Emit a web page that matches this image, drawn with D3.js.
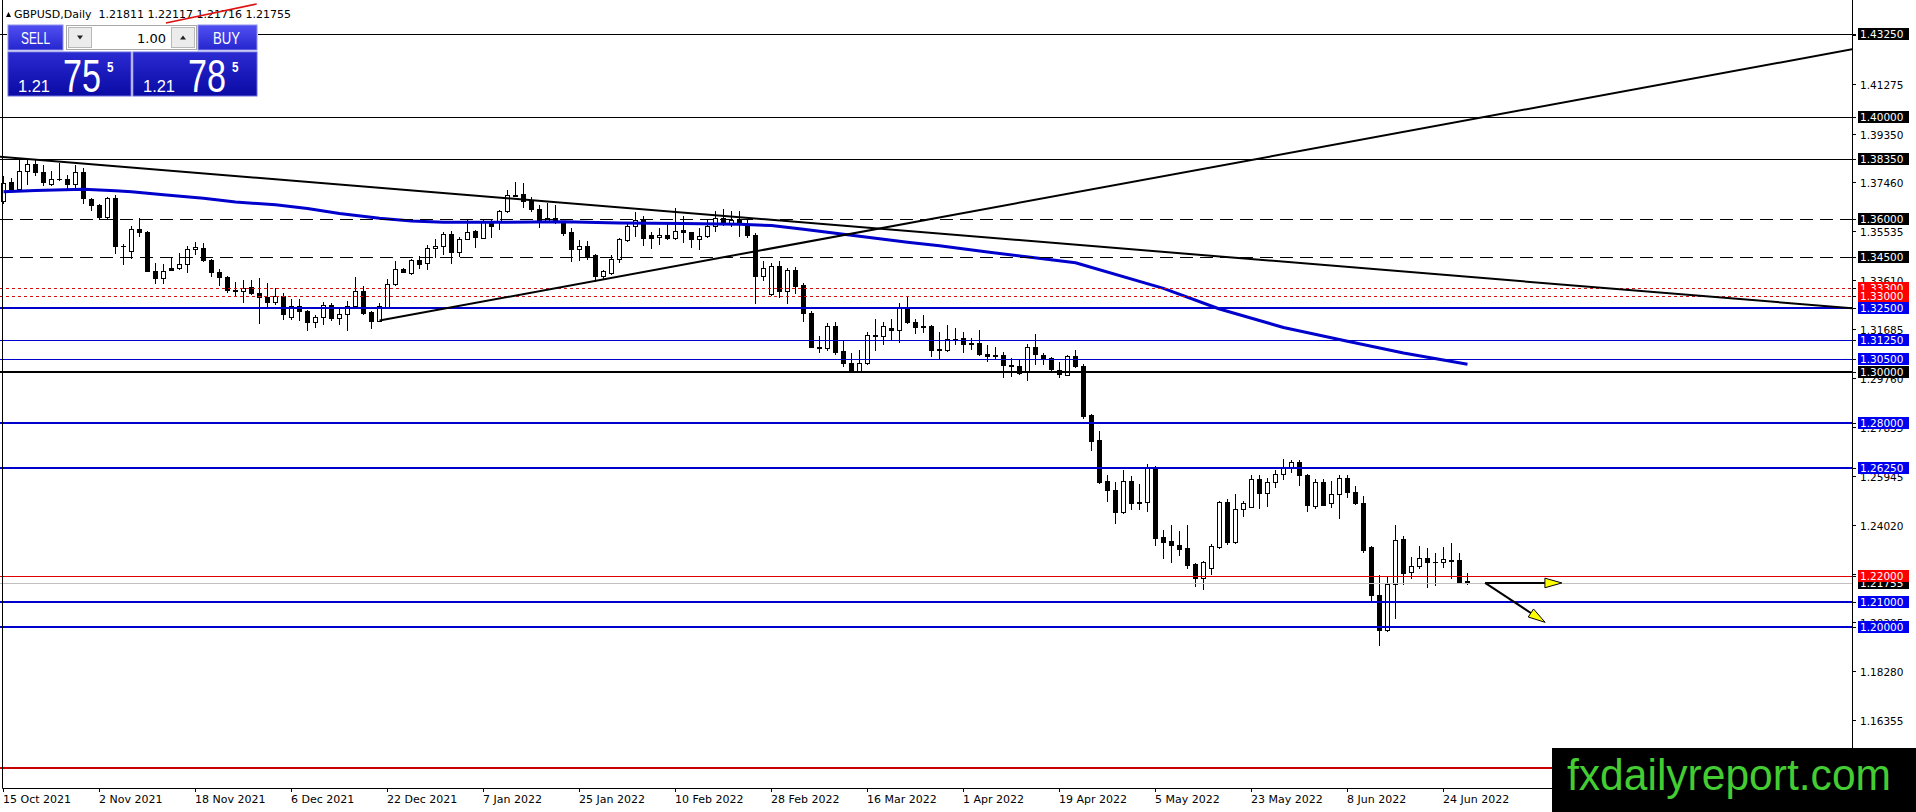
<!DOCTYPE html>
<html>
<head>
<meta charset="utf-8">
<script src="https://cdn.jsdelivr.net/npm/d3@7"></script>
<style>
  body { margin: 0; background: #fff; overflow: hidden; }
  text { font-family: "DejaVu Sans", sans-serif; }
</style>
</head>
<body>
<div id="chart"></div>
<script>
// ---- data ----
var symbol = "GBPUSD,Daily";

var opens = [
  1.3669,1.3747,1.3718,1.3788,1.3815,1.3785,1.3737,1.3756,1.3757,1.3737,
  1.3785,1.3678,1.3656,1.3608,1.3682,1.3494,1.3473,1.3559,1.3551,1.3398,
  1.3368,1.3407,1.3407,1.3423,1.3481,1.3487,1.3438,1.3393,1.3373,1.3323,
  1.3318,1.3334,1.3310,1.3296,1.3274,1.3298,1.3215,1.3258,1.3241,1.3196,
  1.3215,1.3264,1.3211,1.3228,1.3258,1.3319,1.3237,1.3202,1.3257,1.3345,
  1.3404,1.3388,1.3438,1.3426,1.3485,1.3493,1.3542,1.3472,1.3522,1.3552,
  1.3526,1.3585,1.3591,1.3630,1.3696,1.3699,1.3671,1.3639,1.3591,1.3604,
  1.3585,1.3548,1.3481,1.3494,1.3458,1.3375,1.3390,1.3442,1.3517,1.3572,
  1.3597,1.3539,1.3530,1.3539,1.3526,1.3556,1.3548,1.3522,1.3533,1.3574,
  1.3604,1.3582,1.3600,1.3578,1.3539,1.3375,1.3306,1.3416,1.3316,1.3401,
  1.3342,1.3232,1.3099,1.3095,1.3179,1.3082,1.3034,1.3004,1.3034,1.3144,
  1.3140,1.3172,1.3166,1.3254,1.3198,1.3182,1.3180,1.3086,1.3088,1.3131,
  1.3134,1.3114,1.3114,1.3073,1.3067,1.3067,1.3028,1.3023,1.3000,1.3100,
  1.3067,1.3056,1.3010,1.2990,1.3065,1.3026,1.2834,1.2735,1.2572,1.2540,
  1.2452,1.2575,1.2493,1.2491,1.2628,1.2353,1.2337,1.2324,1.2311,1.2248,
  1.2195,1.2234,1.2315,1.2491,1.2334,1.2464,1.2470,1.2581,1.2526,1.2570,
  1.2600,1.2630,1.2648,1.2596,1.2477,1.2570,1.2487,1.2522,1.2585,1.2531,
  1.2487,1.2316,1.2128,1.1991,1.2171,1.2346,1.2216,1.2240,1.2272,1.2255,
  1.2256,1.2264,1.2262,1.21811];

var highs = [
  1.3769,1.3760,1.3831,1.3831,1.3831,1.3811,1.3789,1.3820,1.3772,1.3811,
  1.3798,1.3682,1.3660,1.3688,1.3695,1.3504,1.3574,1.3604,1.3553,1.3429,
  1.3424,1.3448,1.3468,1.3494,1.3509,1.3507,1.3442,1.3406,1.3375,1.3354,
  1.3360,1.3360,1.3368,1.3349,1.3329,1.3309,1.3286,1.3286,1.3244,1.3222,
  1.3276,1.3270,1.3248,1.3280,1.3373,1.3338,1.3240,1.3270,1.3364,1.3436,
  1.3407,1.3442,1.3455,1.3498,1.3520,1.3550,1.3552,1.3531,1.3598,1.3556,
  1.3598,1.3598,1.3636,1.3712,1.3747,1.3740,1.3688,1.3656,1.3662,1.3656,
  1.3591,1.3565,1.3517,1.3513,1.3461,1.3400,1.3458,1.3526,1.3585,1.3626,
  1.3610,1.3548,1.3565,1.3585,1.3643,1.3610,1.3550,1.3565,1.3597,1.3630,
  1.3639,1.3630,1.3630,1.3600,1.3546,1.3436,1.3429,1.3436,1.3410,1.3413,
  1.3349,1.3241,1.3141,1.3192,1.3196,1.3124,1.3075,1.3088,1.3157,1.3209,
  1.3196,1.3209,1.3271,1.3299,1.3209,1.3222,1.3183,1.3159,1.3183,1.3172,
  1.3157,1.3134,1.3167,1.3108,1.3100,1.3078,1.3054,1.3049,1.3110,1.3148,
  1.3075,1.3061,1.3041,1.3067,1.3088,1.3032,1.2837,1.2771,1.2598,1.2569,
  1.2615,1.2595,1.2563,1.2641,1.2634,1.2380,1.2402,1.2376,1.2400,1.2252,
  1.2259,1.2328,1.2497,1.2501,1.2524,1.2496,1.2596,1.2596,1.2585,1.2617,
  1.2661,1.2656,1.2656,1.2600,1.2581,1.2583,1.2574,1.2596,1.2596,1.2552,
  1.2516,1.2318,1.2207,1.2203,1.2402,1.2359,1.2277,1.2320,1.2311,1.2292,
  1.2316,1.2329,1.2290,1.22117];

var lows = [
  1.3662,1.3710,1.3716,1.3737,1.3772,1.3734,1.3735,1.3752,1.3714,1.3717,
  1.3662,1.3636,1.3600,1.3604,1.3468,1.3423,1.3448,1.3533,1.3395,1.3351,
  1.3351,1.3400,1.3403,1.3394,1.3461,1.3436,1.3377,1.3341,1.3315,1.3303,
  1.3276,1.3306,1.3192,1.3257,1.3267,1.3209,1.3209,1.3206,1.3166,1.3176,
  1.3187,1.3206,1.3189,1.3166,1.3254,1.3229,1.3174,1.3200,1.3254,1.3341,
  1.3392,1.3384,1.3410,1.3406,1.3451,1.3461,1.3429,1.3455,1.3520,1.3490,
  1.3524,1.3529,1.3559,1.3627,1.3691,1.3647,1.3630,1.3569,1.3587,1.3585,
  1.3539,1.3435,1.3438,1.3442,1.3358,1.3367,1.3384,1.3432,1.3513,1.3533,
  1.3500,1.3487,1.3504,1.3522,1.3520,1.3509,1.3491,1.3483,1.3530,1.3552,
  1.3578,1.3572,1.3533,1.3530,1.3270,1.3362,1.3302,1.3293,1.3270,1.3312,
  1.3202,1.3098,1.3079,1.3086,1.3073,1.3025,1.3000,1.3001,1.3032,1.3086,
  1.3111,1.3131,1.3118,1.3193,1.3153,1.3157,1.3064,1.3051,1.3083,1.3111,
  1.3079,1.3092,1.3066,1.3044,1.3052,1.2980,1.2984,1.2993,1.2970,1.3032,
  1.3032,1.3006,1.2980,1.2987,1.3019,1.2820,1.2693,1.2567,1.2497,1.2409,
  1.2449,1.2465,1.2465,1.2454,1.2321,1.2272,1.2256,1.2285,1.2233,1.2162,
  1.2152,1.2210,1.2312,1.2325,1.2332,1.2435,1.2470,1.2467,1.2477,1.2548,
  1.2581,1.2609,1.2557,1.2454,1.2467,1.2479,1.2470,1.2427,1.2509,1.2483,
  1.2297,1.2102,1.1930,1.1987,1.2036,1.2171,1.2193,1.2232,1.2158,1.2167,
  1.2236,1.2193,1.2174,1.21716];

var closes = [
  1.3740,1.3717,1.3789,1.3815,1.3783,1.3744,1.3757,1.3756,1.3737,1.3785,
  1.3682,1.3656,1.3608,1.3682,1.3494,1.3496,1.3559,1.3551,1.3397,1.3368,
  1.3398,1.3402,1.3423,1.3481,1.3490,1.3438,1.3393,1.3373,1.3323,1.3318,
  1.3330,1.3310,1.3296,1.3274,1.3298,1.3228,1.3258,1.3241,1.3196,1.3215,
  1.3264,1.3211,1.3228,1.3258,1.3319,1.3231,1.3202,1.3261,1.3345,1.3403,
  1.3394,1.3438,1.3425,1.3485,1.3493,1.3542,1.3472,1.3522,1.3550,1.3529,
  1.3591,1.3572,1.3630,1.3695,1.3692,1.3671,1.3639,1.3591,1.3604,1.3591,
  1.3546,1.3481,1.3496,1.3455,1.3375,1.3397,1.3442,1.3520,1.3572,1.3595,
  1.3524,1.3526,1.3539,1.3526,1.3552,1.3551,1.3520,1.3533,1.3572,1.3604,
  1.3582,1.3597,1.3582,1.3539,1.3375,1.3407,1.3416,1.3316,1.3401,1.3338,
  1.3232,1.3099,1.3095,1.3179,1.3079,1.3034,1.3004,1.3034,1.3144,1.3140,
  1.3179,1.3166,1.3254,1.3196,1.3176,1.3178,1.3086,1.3090,1.3131,1.3128,
  1.3111,1.3109,1.3070,1.3064,1.3062,1.3028,1.3024,1.2997,1.3100,1.3071,
  1.3054,1.3013,1.2993,1.3065,1.3023,1.2830,1.2732,1.2569,1.2537,1.2452,
  1.2572,1.2488,1.2488,1.2628,1.2350,1.2334,1.2321,1.2308,1.2243,1.2195,
  1.2256,1.2317,1.2491,1.2334,1.2465,1.2487,1.2581,1.2526,1.2570,1.2600,
  1.2624,1.2648,1.2596,1.2479,1.2570,1.2480,1.2522,1.2585,1.2529,1.2487,
  1.2305,1.2128,1.1991,1.2171,1.2342,1.2212,1.2242,1.2272,1.2255,1.2257,
  1.2268,1.2259,1.2177,1.21755];

// moving average, read at some bars
var maBars   = [0, 4, 10, 14, 16, 20, 25, 29, 34, 38, 42, 47, 51, 55, 62, 70, 77, 85, 92, 96,
                100, 104, 109, 113, 117, 123, 134, 145, 152, 160, 168, 175, 183];
var maValues = [1.37071, 1.37118, 1.37165, 1.37110, 1.37071, 1.36953, 1.36812, 1.36667, 1.36561,
                1.36412, 1.36216, 1.36028, 1.35923, 1.35872, 1.35872, 1.35895, 1.35844, 1.35825,
                1.35793, 1.35746, 1.35597, 1.35440, 1.35244, 1.35088, 1.34954, 1.34708, 1.34288,
                1.33281, 1.32474, 1.31749, 1.31209, 1.30750, 1.30311];

// date axis
var dateLabels = ["15 Oct 2021", "2 Nov 2021", "18 Nov 2021", "6 Dec 2021", "22 Dec 2021",
                  "7 Jan 2022", "25 Jan 2022", "10 Feb 2022", "28 Feb 2022", "16 Mar 2022",
                  "1 Apr 2022", "19 Apr 2022", "5 May 2022", "23 May 2022", "8 Jun 2022", "24 Jun 2022"];
var dateBars = [0, 12, 24, 36, 48, 60, 72, 84, 96, 108, 120, 132, 144, 156, 168, 180];

// price axis ticks
var priceTicks = [1.43200, 1.41275, 1.39350, 1.37460, 1.35535, 1.33610, 1.31685, 1.29760,
                  1.27835, 1.25945, 1.24020, 1.22095, 1.20205, 1.18280, 1.16355, 1.14430];

// horizontal levels and their kinds
var levels = [1.43250, 1.40000, 1.38350, 1.36000, 1.34500, 1.33300, 1.33000, 1.32500,
              1.31250, 1.30500, 1.30000, 1.28000, 1.26250, 1.22000, 1.21000, 1.20000, 1.14500];
var levelKinds = ["black", "black", "black", "dash", "dash", "reddot", "reddot", "blue2",
                  "blue1", "blue1", "black2", "blue2", "blue2", "red1", "blue2", "blue2", "red2"];

// trend lines: [bar1, price1, bar2, price2, mode]
var trendLines = [
  [2, 1.38379, 180, 1.33814, "line"],
  [47, 1.32020, 220, 1.42012, "ray"]
];
// short red segment crossing the header
var redSegment = [20.3, 1.43681, 31.65, 1.44426];

// arrows drawn after the last bar
var arrowStart = [185.2, 1.21740];
var arrowEnds = [[194.8, 1.21740], [192.7, 1.20197]];

var bidPrice = 1.21755, askPrice = 1.21785, lotSize = "1.00";

// ---- layout ----
var W = 1916, H = 812;
var plotRight = 1852, plotBottom = 788;
var logoTop = 748;

var x = d3.scaleLinear().domain([0, 1]).range([3.5, 11.5]);
var y = d3.scaleLinear().domain([1.13705, 1.44582]).range([plotBottom, 0]);

var svg = d3.select("#chart").append("svg")
  .attr("width", W)
  .attr("height", H);

svg.append("rect").attr("width", W).attr("height", H).attr("fill", "#fff");

var defs = svg.append("defs");
defs.append("clipPath").attr("id", "plotClip")
  .append("rect").attr("x", 0).attr("y", 0).attr("width", plotRight).attr("height", plotBottom);

var plot = svg.append("g").attr("clip-path", "url(#plotClip)");

function crisp(v, w) {
  return (w % 2 === 1) ? Math.round(v) + 0.5 : Math.round(v);
}

// candles
var bars = d3.range(opens.length).map(function(i) {
  return {i: i, o: opens[i], h: highs[i], l: lows[i], c: closes[i]};
});

var candle = plot.append("g").selectAll("g")
  .data(bars)
  .enter()
  .append("g");

candle.append("line")
  .attr("x1", function(d) { return x(d.i); })
  .attr("x2", function(d) { return x(d.i); })
  .attr("y1", function(d) { return Math.round(y(d.h)); })
  .attr("y2", function(d) { return Math.round(y(d.l)) + 1; })
  .attr("stroke", "#000")
  .attr("stroke-width", 1);

candle.each(function(d) {
  var top = Math.round(y(Math.max(d.o, d.c)));
  var bot = Math.round(y(Math.min(d.o, d.c)));
  var g = d3.select(this);
  if (bot - top < 1) {
    g.append("line")
      .attr("x1", x(d.i) - 2.5).attr("x2", x(d.i) + 2.5)
      .attr("y1", top + 0.5).attr("y2", top + 0.5)
      .attr("stroke", "#000");
  } else {
    g.append("rect")
      .attr("x", x(d.i) - 2)
      .attr("y", top + 0.5)
      .attr("width", 4)
      .attr("height", bot - top)
      .attr("fill", d.c >= d.o ? "#fff" : "#000")
      .attr("stroke", "#000")
      .attr("stroke-width", 1);
  }
});

// moving average
var maLine = d3.line()
  .x(function(d) { return x(d[0]); })
  .y(function(d) { return y(d[1]); });

plot.append("path")
  .datum(d3.zip(maBars, maValues))
  .attr("d", maLine)
  .attr("fill", "none")
  .attr("stroke", "#0000cd")
  .attr("stroke-width", 3)
  .attr("stroke-linejoin", "round");

// horizontal levels
var lineStyles = {
  black:  {color: "#000",    width: 1, box: "#000"},
  black2: {color: "#000",    width: 2, box: "#000"},
  dash:   {color: "#000",    width: 1, box: "#000", dash: "13,7"},
  reddot: {color: "#d01010", width: 1, box: "#ff0000", dash: "3,3"},
  blue1:  {color: "#0000cd", width: 1, box: "#0000f0"},
  blue2:  {color: "#0000cd", width: 2, box: "#0000f0"},
  red1:   {color: "#e00000", width: 1, box: "#ff0000"},
  red2:   {color: "#c80000", width: 2, box: "#ff0000"}
};

// bid line
plot.append("line")
  .attr("x1", 0).attr("x2", plotRight)
  .attr("y1", crisp(y(bidPrice), 1)).attr("y2", crisp(y(bidPrice), 1))
  .attr("stroke", "#c0c0c0");

plot.append("g").selectAll("line")
  .data(levels)
  .enter()
  .append("line")
  .attr("x1", 0)
  .attr("x2", plotRight)
  .attr("y1", function(d, i) { return crisp(y(d), lineStyles[levelKinds[i]].width); })
  .attr("y2", function(d, i) { return crisp(y(d), lineStyles[levelKinds[i]].width); })
  .attr("stroke", function(d, i) { return lineStyles[levelKinds[i]].color; })
  .attr("stroke-width", function(d, i) { return lineStyles[levelKinds[i]].width; })
  .attr("stroke-dasharray", function(d, i) { return lineStyles[levelKinds[i]].dash || null; });

// trend lines
var lastBar = (plotRight - x(0)) / (x(1) - x(0)) + 2;
trendLines.forEach(function(t) {
  var slope = (t[3] - t[1]) / (t[2] - t[0]);
  var b1 = t[4] === "line" ? -2 : t[0];
  var b2 = lastBar;
  plot.append("line")
    .attr("x1", x(b1)).attr("y1", y(t[1] + slope * (b1 - t[0])))
    .attr("x2", x(b2)).attr("y2", y(t[1] + slope * (b2 - t[0])))
    .attr("stroke", "#000")
    .attr("stroke-width", 2);
});

// arrows
arrowEnds.forEach(function(e) {
  var sx = x(arrowStart[0]), sy = y(arrowStart[1]);
  var ex = x(e[0]), ey = y(e[1]);
  var len = Math.hypot(ex - sx, ey - sy);
  var ux = (ex - sx) / len, uy = (ey - sy) / len;
  var bx = ex - ux * 17, by = ey - uy * 17;
  svg.append("line")
    .attr("x1", sx).attr("y1", sy).attr("x2", bx).attr("y2", by)
    .attr("stroke", "#000").attr("stroke-width", 2);
  svg.append("polygon")
    .attr("points", [[ex, ey], [bx - uy * 4.8, by + ux * 4.8], [bx + uy * 4.8, by - ux * 4.8]].join(" "))
    .attr("fill", "#ffff00")
    .attr("stroke", "#000")
    .attr("stroke-width", 1);
});

// chart frame
svg.append("line").attr("x1", 2.5).attr("x2", 2.5).attr("y1", 0).attr("y2", plotBottom + 0.5)
  .attr("stroke", "#000");
svg.append("line").attr("x1", 2.5).attr("x2", plotRight + 0.5).attr("y1", plotBottom + 0.5).attr("y2", plotBottom + 0.5)
  .attr("stroke", "#000");
svg.append("line").attr("x1", plotRight + 0.5).attr("x2", plotRight + 0.5).attr("y1", 0).attr("y2", plotBottom + 0.5)
  .attr("stroke", "#000");

// header
svg.append("polygon")
  .attr("points", "6,17 11,17 8.5,12")
  .attr("fill", "#000");
svg.append("text")
  .attr("x", 14).attr("y", 18)
  .style("font-size", "11px")
  .style("white-space", "pre")
  .text(symbol + "  " + [opens[183], highs[183], lows[183], closes[183]].map(function(v) { return v.toFixed(5); }).join(" "));

svg.append("line")
  .attr("x1", x(redSegment[0])).attr("y1", y(redSegment[1]))
  .attr("x2", x(redSegment[2])).attr("y2", y(redSegment[3]))
  .attr("stroke", "#dd1111").attr("stroke-width", 1.6);

// one click trading panel
var btnGrad = defs.append("linearGradient").attr("id", "btnGrad")
  .attr("x1", 0).attr("y1", 0).attr("x2", 0).attr("y2", 1);
btnGrad.append("stop").attr("offset", 0).attr("stop-color", "#5050f2");
btnGrad.append("stop").attr("offset", 1).attr("stop-color", "#2626cf");

var pxGrad = defs.append("linearGradient").attr("id", "pxGrad")
  .attr("x1", 0).attr("y1", 0).attr("x2", 0).attr("y2", 1);
pxGrad.append("stop").attr("offset", 0).attr("stop-color", "#2a2ad2");
pxGrad.append("stop").attr("offset", 1).attr("stop-color", "#0a0aa4");

var panel = svg.append("g");
panel.append("rect").attr("x", 7).attr("y", 24).attr("width", 251).attr("height", 73).attr("fill", "#fff");

panel.append("rect").attr("x", 8).attr("y", 25).attr("width", 55).attr("height", 25)
  .attr("fill", "url(#btnGrad)").attr("stroke", "#8f8fe8");
panel.append("rect").attr("x", 198).attr("y", 25).attr("width", 59).attr("height", 25)
  .attr("fill", "url(#btnGrad)").attr("stroke", "#8f8fe8");

panel.append("rect").attr("x", 66.5).attr("y", 25.5).attr("width", 130).attr("height", 24)
  .attr("fill", "#fff").attr("stroke", "#a8a8a8");
panel.append("rect").attr("x", 68.5).attr("y", 27.5).attr("width", 23).attr("height", 20)
  .attr("fill", "#ececec").attr("stroke", "#b8b8b8");
panel.append("rect").attr("x", 171.5).attr("y", 27.5).attr("width", 23).attr("height", 20)
  .attr("fill", "#ececec").attr("stroke", "#b8b8b8");
panel.append("polygon").attr("points", "77,35.5 83,35.5 80,39.5").attr("fill", "#222");
panel.append("polygon").attr("points", "180,39.5 186,39.5 183,35.5").attr("fill", "#222");
panel.append("text").attr("x", 166).attr("y", 43)
  .attr("text-anchor", "end").style("font-size", "13px").attr("fill", "#000")
  .text(lotSize);

panel.append("text").attr("x", 21).attr("y", 44).attr("fill", "#fff")
  .attr("textLength", 29).attr("lengthAdjust", "spacingAndGlyphs")
  .style("font-family", "Liberation Sans").style("font-size", "16px")
  .text("SELL");
panel.append("text").attr("x", 213).attr("y", 44).attr("fill", "#fff")
  .attr("textLength", 27).attr("lengthAdjust", "spacingAndGlyphs")
  .style("font-family", "Liberation Sans").style("font-size", "16px")
  .text("BUY");

[[bidPrice, 8, 123], [askPrice, 133, 124]].forEach(function(p) {
  var s = p[0].toFixed(5);
  var g = panel.append("g").attr("transform", "translate(" + p[1] + ",0)");
  g.append("rect").attr("x", 0).attr("y", 52).attr("width", p[2]).attr("height", 44)
    .attr("fill", "url(#pxGrad)").attr("stroke", "#6a6ae0");
  g.append("text").attr("x", 10).attr("y", 92).attr("fill", "#fff")
    .attr("textLength", 32).attr("lengthAdjust", "spacingAndGlyphs")
    .style("font-family", "Liberation Sans").style("font-size", "16px")
    .text(s.slice(0, 4));
  g.append("text").attr("x", 55).attr("y", 92).attr("fill", "#fff")
    .attr("textLength", 38).attr("lengthAdjust", "spacingAndGlyphs")
    .style("font-family", "Liberation Sans").style("font-size", "47px")
    .text(s.slice(4, 6));
  g.append("text").attr("x", 99).attr("y", 72).attr("fill", "#fff")
    .attr("textLength", 6.5).attr("lengthAdjust", "spacingAndGlyphs")
    .style("font-family", "Liberation Sans").style("font-size", "14px").style("font-weight", "bold")
    .text(s.slice(6));
});

// price axis (labels under the logo block are not drawn, they are hidden there)
var axis = svg.append("g");
axis.selectAll(".tick")
  .data(priceTicks.filter(function(p) { return y(p) < logoTop - 6; }))
  .enter()
  .append("g")
  .each(function(d) {
    var g = d3.select(this);
    var yy = Math.round(y(d)) + 0.5;
    g.append("line").attr("x1", plotRight).attr("x2", plotRight + 4)
      .attr("y1", yy).attr("y2", yy).attr("stroke", "#000");
    g.append("text").attr("x", plotRight + 8).attr("y", yy + 4)
      .style("font-size", "10.5px").attr("fill", "#000")
      .text(d.toFixed(5));
  });

function priceBox(p, fill) {
  var yy = Math.round(y(p));
  axis.append("rect").attr("x", plotRight + 6).attr("y", yy - 6)
    .attr("width", 51).attr("height", 12).attr("fill", fill);
  axis.append("text").attr("x", plotRight + 8).attr("y", yy + 4)
    .style("font-size", "10.5px").attr("fill", "#fff")
    .text(p.toFixed(5));
}

priceBox(bidPrice, "#000");
levels.forEach(function(p, i) {
  if (y(p) >= logoTop - 6) return;
  var yy = Math.round(y(p)) + 0.5;
  axis.append("line").attr("x1", plotRight).attr("x2", plotRight + 4)
    .attr("y1", yy).attr("y2", yy).attr("stroke", "#000");
  priceBox(p, lineStyles[levelKinds[i]].box);
});

// date axis
var dates = svg.append("g");
dateBars.forEach(function(b, i) {
  dates.append("line").attr("x1", x(b)).attr("x2", x(b))
    .attr("y1", plotBottom).attr("y2", plotBottom + 4).attr("stroke", "#000");
  dates.append("text").attr("x", x(b) - 0.5).attr("y", plotBottom + 15)
    .style("font-size", "11px").attr("fill", "#000")
    .text(dateLabels[i]);
});

// watermark
svg.append("rect").attr("x", 1552).attr("y", logoTop).attr("width", 364).attr("height", 64).attr("fill", "#000");
svg.append("text").attr("x", 1567).attr("y", 790)
  .attr("textLength", 324).attr("lengthAdjust", "spacingAndGlyphs")
  .style("font-family", "Liberation Sans").style("font-size", "45px")
  .attr("fill", "#44cc33")
  .text("fxdailyreport.com");
</script>
</body>
</html>
